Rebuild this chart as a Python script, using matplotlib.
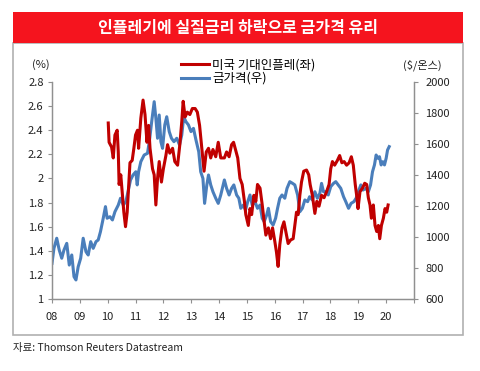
import matplotlib
matplotlib.use("Agg")
import matplotlib.pyplot as plt
from matplotlib.patches import Rectangle

plt.rcParams['font.family'] = ['Noto Sans CJK KR', 'DejaVu Sans']

# 금가격 (우축, $/온스)
gold_t = [2008.00, 2008.07, 2008.17, 2008.26, 2008.35, 2008.43, 2008.53, 2008.62, 2008.71, 2008.79,
          2008.86, 2008.94, 2009.03, 2009.12, 2009.22, 2009.30, 2009.39, 2009.48, 2009.58, 2009.66,
          2009.74, 2009.84, 2009.92, 2009.98, 2010.08, 2010.17, 2010.26, 2010.38, 2010.46, 2010.56,
          2010.65, 2010.73, 2010.82, 2010.91, 2011.01, 2011.06, 2011.11, 2011.19, 2011.31, 2011.43,
          2011.51, 2011.58, 2011.67, 2011.73, 2011.79, 2011.85, 2011.91, 2011.97, 2012.05, 2012.12,
          2012.21, 2012.29, 2012.38, 2012.48, 2012.58, 2012.66, 2012.73, 2012.81, 2012.90, 2012.99,
          2013.08, 2013.17, 2013.27, 2013.34, 2013.42, 2013.48, 2013.56, 2013.62, 2013.70, 2013.78,
          2013.88, 2013.97, 2014.06, 2014.19, 2014.27, 2014.36, 2014.45, 2014.53, 2014.63, 2014.71,
          2014.78, 2014.87, 2014.95, 2015.03, 2015.11, 2015.19, 2015.29, 2015.38, 2015.47, 2015.55,
          2015.62, 2015.71, 2015.77, 2015.85, 2015.94, 2016.03, 2016.10, 2016.18, 2016.26, 2016.36,
          2016.44, 2016.54, 2016.64, 2016.72, 2016.82, 2016.90, 2016.99, 2017.08, 2017.18, 2017.25,
          2017.35, 2017.44, 2017.53, 2017.62, 2017.68, 2017.75, 2017.83, 2017.92, 2018.01, 2018.11,
          2018.19, 2018.28, 2018.37, 2018.47, 2018.55, 2018.65, 2018.74, 2018.84, 2018.92, 2019.00,
          2019.09, 2019.17, 2019.27, 2019.36, 2019.44, 2019.51, 2019.58, 2019.64, 2019.70, 2019.76,
          2019.82, 2019.88, 2019.94, 2020.00, 2020.05, 2020.11]
gold = [830, 927, 992, 916, 863, 916, 959, 819, 884, 744,
        723, 808, 863, 992, 905, 884, 970, 927, 970, 981,
        1034, 1121, 1196, 1121, 1131, 1110, 1163, 1206, 1250, 1206,
        1228, 1292, 1368, 1400, 1421, 1336, 1421, 1486, 1529, 1540,
        1637, 1744, 1873, 1766, 1637, 1787, 1615, 1572, 1723, 1776,
        1680, 1637, 1615, 1637, 1594, 1658, 1776, 1744, 1723, 1680,
        1701, 1626, 1550, 1421, 1378, 1217, 1336, 1400, 1336, 1292,
        1250, 1217, 1271, 1368, 1314, 1271, 1314, 1336, 1271, 1250,
        1185, 1206, 1174, 1228, 1271, 1206, 1228, 1185, 1206, 1121,
        1099, 1142, 1185, 1099, 1077, 1121, 1185, 1250, 1271, 1250,
        1314, 1357, 1346, 1336, 1271, 1163, 1185, 1239, 1228, 1260,
        1239, 1292, 1250, 1282, 1346, 1292, 1292, 1271, 1325, 1346,
        1357, 1336, 1314, 1260, 1228, 1185, 1217, 1228, 1250, 1292,
        1336, 1303, 1314, 1292, 1336, 1421, 1465, 1529, 1508, 1518,
        1465, 1486, 1465, 1508, 1561, 1583]

# 미국 기대인플레 (좌축, %)
infl_t = [2010.02, 2010.05, 2010.14, 2010.20, 2010.26, 2010.34, 2010.38, 2010.41, 2010.47, 2010.53,
          2010.58, 2010.64, 2010.70, 2010.76, 2010.80, 2010.88, 2010.94, 2011.00, 2011.07, 2011.11,
          2011.19, 2011.27, 2011.34, 2011.41, 2011.47, 2011.52, 2011.61, 2011.67, 2011.73, 2011.79,
          2011.85, 2011.93, 2012.00, 2012.09, 2012.15, 2012.23, 2012.33, 2012.41, 2012.51, 2012.59,
          2012.66, 2012.71, 2012.78, 2012.86, 2012.95, 2013.04, 2013.14, 2013.22, 2013.30, 2013.38,
          2013.46, 2013.54, 2013.62, 2013.70, 2013.78, 2013.88, 2013.97, 2014.06, 2014.19, 2014.27,
          2014.36, 2014.45, 2014.52, 2014.59, 2014.67, 2014.75, 2014.83, 2014.91, 2014.96, 2015.05,
          2015.11, 2015.17, 2015.25, 2015.32, 2015.38, 2015.47, 2015.55, 2015.62, 2015.68, 2015.77,
          2015.85, 2015.92, 2016.00, 2016.06, 2016.12, 2016.18, 2016.26, 2016.33, 2016.42, 2016.48,
          2016.57, 2016.66, 2016.72, 2016.78, 2016.84, 2016.90, 2016.96, 2017.04, 2017.14, 2017.22,
          2017.27, 2017.35, 2017.44, 2017.51, 2017.59, 2017.68, 2017.77, 2017.86, 2017.95, 2018.01,
          2018.07, 2018.15, 2018.25, 2018.33, 2018.41, 2018.49, 2018.58, 2018.67, 2018.75, 2018.82,
          2018.89, 2018.94, 2018.99, 2019.06, 2019.15, 2019.23, 2019.30, 2019.36, 2019.42, 2019.47,
          2019.54, 2019.60, 2019.66, 2019.72, 2019.77, 2019.83, 2019.90, 2019.96, 2020.02, 2020.07]
infl = [2.46, 2.30, 2.26, 2.17, 2.36, 2.40, 2.22, 1.95, 2.03, 1.86,
        1.72, 1.60, 1.72, 1.97, 2.13, 2.15, 2.25, 2.36, 2.40, 2.25,
        2.50, 2.65, 2.53, 2.30, 2.44, 2.25, 2.08, 2.03, 1.78, 2.00,
        2.14, 1.97, 2.08, 2.19, 2.28, 2.21, 2.25, 2.14, 2.11, 2.28,
        2.47, 2.64, 2.51, 2.55, 2.53, 2.58, 2.58, 2.55, 2.44, 2.25,
        2.06, 2.22, 2.25, 2.17, 2.24, 2.18, 2.30, 2.17, 2.17, 2.22,
        2.18, 2.28, 2.30, 2.24, 2.17, 2.00, 1.95, 1.81, 1.70, 1.61,
        1.75, 1.70, 1.86, 1.81, 1.95, 1.92, 1.78, 1.64, 1.53, 1.59,
        1.50, 1.59, 1.48, 1.39, 1.27, 1.45, 1.59, 1.64, 1.53, 1.46,
        1.49, 1.50, 1.61, 1.72, 1.70, 1.86, 1.97, 2.06, 2.07, 2.03,
        1.95, 1.86, 1.71, 1.81, 1.77, 1.86, 1.84, 1.89, 1.95, 2.08,
        2.14, 2.11, 2.15, 2.19, 2.13, 2.14, 2.11, 2.13, 2.18, 2.11,
        1.95, 1.86, 1.75, 1.89, 1.92, 1.96, 1.95, 1.84, 1.78, 1.67,
        1.78, 1.61, 1.56, 1.61, 1.50, 1.61, 1.67, 1.75, 1.72, 1.78]

years = list(range(2008, 2022))
year_labels = ['08', '09', '10', '11', '12', '13', '14', '15', '16', '17', '18', '19', '20', '']
left_ticks = [1, 1.2, 1.4, 1.6, 1.8, 2, 2.2, 2.4, 2.6, 2.8]
right_ticks = [600, 800, 1000, 1200, 1400, 1600, 1800, 2000]

W, H = 480, 371
fig = plt.figure(figsize=(W / 100, H / 100), dpi=100)

# 제목 띠와 테두리
fig.patches.append(Rectangle((13 / W, 1 - 335 / H), 450 / W, 292 / H, transform=fig.transFigure,
                             facecolor='none', edgecolor='#b0b0b0', linewidth=1.2, zorder=-5))
fig.patches.append(Rectangle((13 / W, 1 - 43 / H), 450 / W, 31 / H, transform=fig.transFigure,
                             facecolor='#f5141e', edgecolor='none', zorder=-5))
fig.text(238 / W, 1 - 28 / H, '인플레기에 실질금리 하락으로 금가격 유리', color='white',
         fontsize=11.5, fontweight='bold', ha='center', va='center')

ax = fig.add_axes([52 / W, 1 - 299 / H, 362 / W, 217 / H])
ax2 = ax.twinx()

red, blue = '#c00000', '#4a7ebb'
l1, = ax.plot(infl_t, infl, color=red, lw=2.2, zorder=3)
l2, = ax2.plot(gold_t, gold, color=blue, lw=2.2)
ax.set_zorder(ax2.get_zorder() + 1)
ax.patch.set_visible(False)

ax.set_xlim(2008, 2021)
ax.set_ylim(1, 2.8)
ax2.set_ylim(600, 2000)
ax.set_xticks(years)
ax.set_xticklabels(year_labels)
ax.set_yticks(left_ticks)
ax.set_yticklabels(['%g' % v for v in left_ticks])
ax2.set_yticks(right_ticks)

for a in (ax, ax2):
    a.spines['top'].set_visible(False)
    for s in ('left', 'right', 'bottom'):
        a.spines[s].set_color('#909090')
        a.spines[s].set_linewidth(0.9)
    a.tick_params(colors='#909090', labelcolor='#222222', labelsize=8, length=3, width=0.8)
ax.tick_params(axis='x', pad=6)
ax.tick_params(axis='y', pad=3)
ax2.tick_params(axis='y', pad=5)

fig.text(41 / W, 1 - 65 / H, '(%)', fontsize=8, color='#222222', ha='center', va='center')
fig.text(422 / W, 1 - 65 / H, '($/온스)', fontsize=8, color='#222222', ha='center', va='center')

fig.legend([l1, l2], ['미국 기대인플레(좌)', '금가격(우)'], loc='upper left',
           bbox_to_anchor=(175 / W, 1 - 52 / H), frameon=False, fontsize=9,
           handlelength=2.2, handletextpad=0.3, labelspacing=0.05, borderpad=0)

fig.text(13 / W, 1 - 348 / H, '자료: Thomson Reuters Datastream', fontsize=7.5,
         color='#222222', ha='left', va='center')

fig.savefig('out.png', dpi=100)
